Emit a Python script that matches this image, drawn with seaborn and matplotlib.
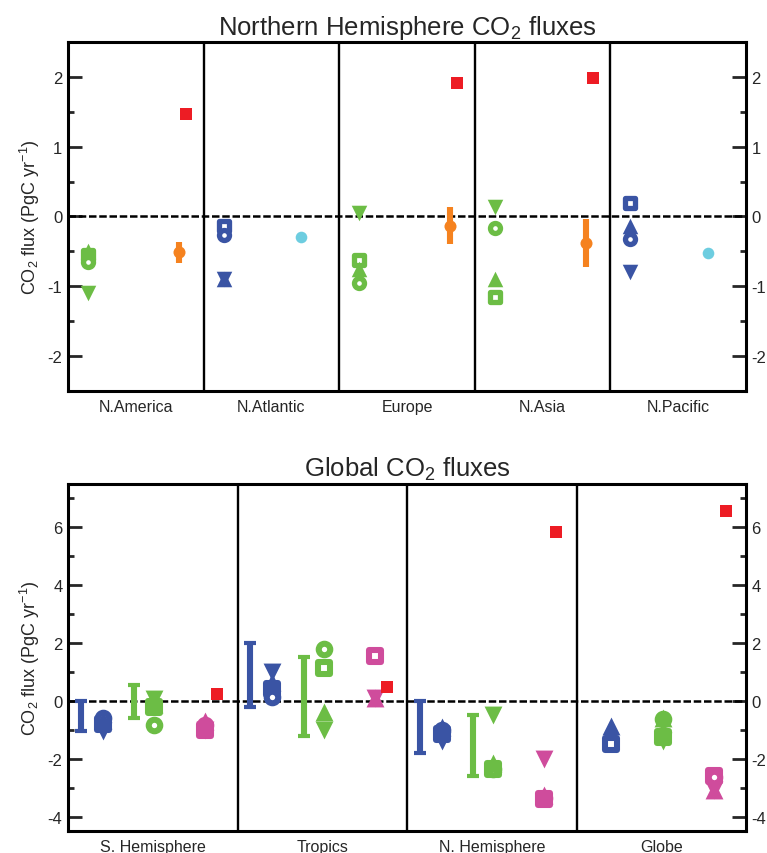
import numpy as np
import seaborn as sns
import matplotlib.pyplot as plt
from matplotlib.ticker import MultipleLocator

nan = np.nan

# Northern Hemisphere panel
nh_regions = ['N.America', 'N.Atlantic', 'Europe', 'N.Asia', 'N.Pacific']
nh_is_ocean = [False, True, False, False, True]
nh_square = [-0.55, -0.14, -0.62, -1.15, 0.20]
nh_circle = [-0.65, -0.27, -0.95, -0.16, -0.32]
nh_tri_up = [-0.50, -0.89, -0.75, -0.89, -0.14]
nh_tri_down = [-1.10, -0.89, 0.05, 0.13, -0.80]
nh_inv_mean = [-0.51, nan, -0.13, -0.38, nan]
nh_inv_low = [-0.67, nan, -0.40, -0.73, nan]
nh_inv_high = [-0.36, nan, 0.14, -0.04, nan]
nh_fossil = [1.47, nan, 1.91, 1.98, nan]
nh_ocean_obs = [nan, -0.30, nan, nan, -0.52]

# Global panel
gl_regions = ['S. Hemisphere', 'Tropics', 'N. Hemisphere', 'Globe']
gl_ocean_low = [-1.05, -0.20, -1.80, nan]
gl_ocean_high = [0.00, 2.00, 0.00, nan]
gl_ocean_square = [-0.80, 0.40, -1.15, -1.50]
gl_ocean_circle = [-0.60, 0.15, -1.00, nan]
gl_ocean_up = [-0.65, 0.65, -0.90, -0.87]
gl_ocean_down = [-1.05, 1.00, -1.40, nan]
gl_land_low = [-0.60, -1.20, -2.60, nan]
gl_land_high = [0.55, 1.50, -0.50, nan]
gl_land_square = [-0.20, 1.15, -2.35, -1.25]
gl_land_circle = [-0.85, 1.80, -2.35, -0.62]
gl_land_up = [-0.10, -0.40, -2.15, -0.60]
gl_land_down = [0.05, -1.00, -0.50, -1.40]
gl_total_square = [-1.00, 1.55, -3.40, -2.60]
gl_total_circle = [-0.85, nan, -3.35, -2.65]
gl_total_up = [-0.70, 0.10, -3.25, -3.10]
gl_total_down = [-1.00, 0.10, -2.00, -3.10]
gl_fossil = [0.24, 0.48, 5.83, 6.55]

BLUE = '#3a54a4'
GREEN = '#6cbd45'
ORANGE = '#f5821f'
RED = '#ed1c24'
CYAN = '#6dcde0'
MAGENTA = '#cf4c9c'

sns.set_style('ticks')
plt.rcParams['font.family'] = ['Liberation Sans', 'DejaVu Sans']
plt.rcParams['mathtext.fontset'] = 'custom'
plt.rcParams['mathtext.rm'] = 'Liberation Sans'
plt.rcParams['axes.unicode_minus'] = False


def markers(ax, x, vals, color, kind, big=False):
    x = np.asarray(x, dtype=float)
    k = 1.15 if big else 1.0
    if kind in ('s', 'o'):
        sns.scatterplot(x=x, y=vals, ax=ax, marker=kind, s=52 * k * k,
                        color=color, facecolor='white', edgecolor=color,
                        linewidth=3.8 * k, zorder=4, legend=False)
    else:
        sns.scatterplot(x=x, y=vals, ax=ax, marker=kind, s=125 * k * k,
                        color=color, edgecolor=color, linewidth=0,
                        zorder=4, legend=False)


def solid(ax, x, vals, color, kind, size):
    sns.scatterplot(x=np.asarray(x, dtype=float), y=vals, ax=ax, marker=kind,
                    s=size, color=color, edgecolor=color, linewidth=0,
                    zorder=4, legend=False)


def bars(ax, x, low, high, color, caps=True):
    low = np.asarray(low)
    high = np.asarray(high)
    ax.errorbar(x, low, yerr=[np.zeros_like(low), high - low], fmt='none',
                ecolor=color, elinewidth=4.4, capsize=4 if caps else 0,
                capthick=3, zorder=3)


def frame(ax, regions, title, ylim, major, minor):
    n = len(regions)
    ax.set_xlim(0, n)
    ax.set_ylim(*ylim)
    for i in range(1, n):
        ax.axvline(i, color='black', lw=1.7, zorder=2)
    ax.axhline(0, color='black', lw=1.8, ls=(0, (3, 1.1)), zorder=2)
    ax.set_xticks(np.arange(n) + 0.5)
    ax.set_xticklabels(regions, fontsize=11.5)
    ax.tick_params(axis='x', length=0, pad=6)
    ax.yaxis.set_major_locator(MultipleLocator(major))
    ax.yaxis.set_minor_locator(MultipleLocator(minor))
    ax.tick_params(axis='y', which='both', direction='in', left=True,
                   right=True, labelleft=True, labelright=True, width=2,
                   labelsize=12, pad=4)
    ax.tick_params(axis='y', which='major', length=10)
    ax.tick_params(axis='y', which='minor', length=4.5)
    for sp in ax.spines.values():
        sp.set_visible(True)
        sp.set_linewidth(2.2)
        sp.set_color('black')
    ax.set_title(title, fontsize=18.5, pad=6)
    ax.set_ylabel('CO$_2$ flux (PgC yr$^{-1}$)', fontsize=13, labelpad=4)
    ax.set_xlabel('')


fig = plt.figure(figsize=(7.67, 8.54), dpi=100)
ax1 = fig.add_axes([0.0887, 0.541, 0.884, 0.4087])
ax2 = fig.add_axes([0.0887, 0.0258, 0.884, 0.4063])

# top panel
idx = np.arange(len(nh_regions))
mcol = [BLUE if o else GREEN for o in nh_is_ocean]
for i in idx:
    xm = i + 0.147
    markers(ax1, [xm], [nh_square[i]], mcol[i], 's')
    markers(ax1, [xm], [nh_circle[i]], mcol[i], 'o')
    markers(ax1, [xm], [nh_tri_up[i]], mcol[i], '^')
    markers(ax1, [xm], [nh_tri_down[i]], mcol[i], 'v')
bars(ax1, idx + 0.82, nh_inv_low, nh_inv_high, ORANGE, caps=False)
solid(ax1, idx + 0.82, nh_inv_mean, ORANGE, 'o', 75)
solid(ax1, idx + 0.87, nh_fossil, RED, 's', 80)
solid(ax1, idx + 0.72, nh_ocean_obs, CYAN, 'o', 70)
frame(ax1, nh_regions, 'Northern Hemisphere CO$_2$ fluxes', (-2.5, 2.5), 1, 0.5)

# bottom panel
gidx = np.arange(len(gl_regions))
bars(ax2, gidx + 0.076, gl_ocean_low, gl_ocean_high, BLUE)
bars(ax2, gidx + 0.39, gl_land_low, gl_land_high, GREEN)
for vals, kind in [(gl_ocean_square, 's'), (gl_ocean_circle, 'o'),
                   (gl_ocean_up, '^'), (gl_ocean_down, 'v')]:
    markers(ax2, gidx + 0.205, vals, BLUE, kind, big=True)
for vals, kind in [(gl_land_square, 's'), (gl_land_circle, 'o'),
                   (gl_land_up, '^'), (gl_land_down, 'v')]:
    markers(ax2, gidx + 0.51, vals, GREEN, kind, big=True)
for vals, kind in [(gl_total_square, 's'), (gl_total_circle, 'o'),
                   (gl_total_up, '^'), (gl_total_down, 'v')]:
    markers(ax2, gidx + 0.81, vals, MAGENTA, kind, big=True)
solid(ax2, gidx + 0.88, gl_fossil, RED, 's', 85)
frame(ax2, gl_regions, 'Global CO$_2$ fluxes', (-4.5, 7.5), 2, 1)

fig.savefig('out.png', dpi=100)
